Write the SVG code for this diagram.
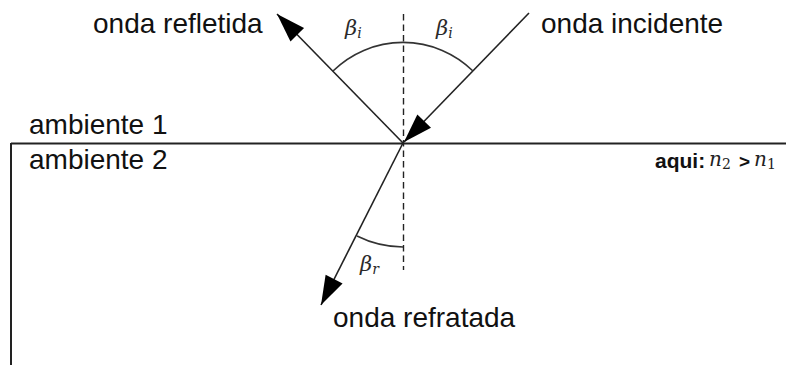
<svg xmlns="http://www.w3.org/2000/svg" width="786" height="365" viewBox="0 0 786 365">
<style>
.lbl{font-family:"Liberation Sans",Arial,sans-serif;font-size:28px;fill:#111}
.ray{stroke:#222;stroke-width:1.6;fill:none}
.arc{stroke:#333;stroke-width:1.6;fill:none}
.gr{font-family:"DejaVu Serif","Liberation Serif",serif;font-style:italic;font-size:21px;fill:#2a2a2a}
.sub{font-size:14px}
.m{font-family:"DejaVu Serif","Liberation Serif",serif;font-style:italic;font-size:20px;fill:#222}
.b{font-family:"Liberation Sans",Arial,sans-serif;font-weight:bold;fill:#111}
</style>
<defs>
<marker id="ah" viewBox="-30 -10 30 20" refX="0" refY="0" markerWidth="30" markerHeight="20" orient="auto" markerUnits="userSpaceOnUse">
<path d="M0,0 L-29,-9.5 L-29,9.5 Z" fill="#000"/>
</marker>
</defs>
<rect width="786" height="365" fill="#fff"/>
<g id="interface">
<line x1="11" y1="143.5" x2="786" y2="143.5" stroke="#222" stroke-width="2"/>
<line x1="11" y1="143" x2="11" y2="365" stroke="#222" stroke-width="2"/>
</g>
<g id="normal">
<line x1="403.5" y1="14" x2="403.5" y2="270" stroke="#222" stroke-width="1.4" stroke-dasharray="6.5 4"/>
</g>
<g id="connectors">
<line class="ray" x1="529" y1="13" x2="404" y2="142" marker-end="url(#ah)"/>
<line class="ray" x1="403" y1="143" x2="277" y2="14" marker-end="url(#ah)"/>
<line class="ray" x1="403" y1="143" x2="321" y2="305" marker-end="url(#ah)"/>
</g>
<g id="angles">
<path class="arc" d="M333,71 A100,100 0 0 1 473,71"/>
<path class="arc" d="M357,236 A104,104 0 0 0 403,247"/>
<text class="gr" x="345" y="35">β<tspan class="sub" dy="3">i</tspan></text>
<text class="gr" x="436" y="35">β<tspan class="sub" dy="3">i</tspan></text>
<text class="gr" x="360" y="271">β<tspan class="sub" dy="3">r</tspan></text>
</g>
<g id="label-refletida"><text class="lbl" x="93" y="33">onda refletida</text></g>
<g id="label-incidente"><text class="lbl" x="541" y="33">onda incidente</text></g>
<g id="label-refratada"><text class="lbl" x="333" y="327">onda refratada</text></g>
<g id="label-amb1"><text class="lbl" x="29" y="134">ambiente 1</text></g>
<g id="label-amb2"><text class="lbl" x="29" y="169">ambiente 2</text></g>
<g id="note">
<text class="b" x="655" y="168" font-size="21">aqui:</text>
<text class="m" x="709" y="166">n<tspan font-size="14" font-style="normal" dy="3">2</tspan></text>
<text class="b" x="739" y="168" font-size="19">&gt;</text>
<text class="m" x="754" y="166">n<tspan font-size="14" font-style="normal" dy="3">1</tspan></text>
</g>
</svg>
